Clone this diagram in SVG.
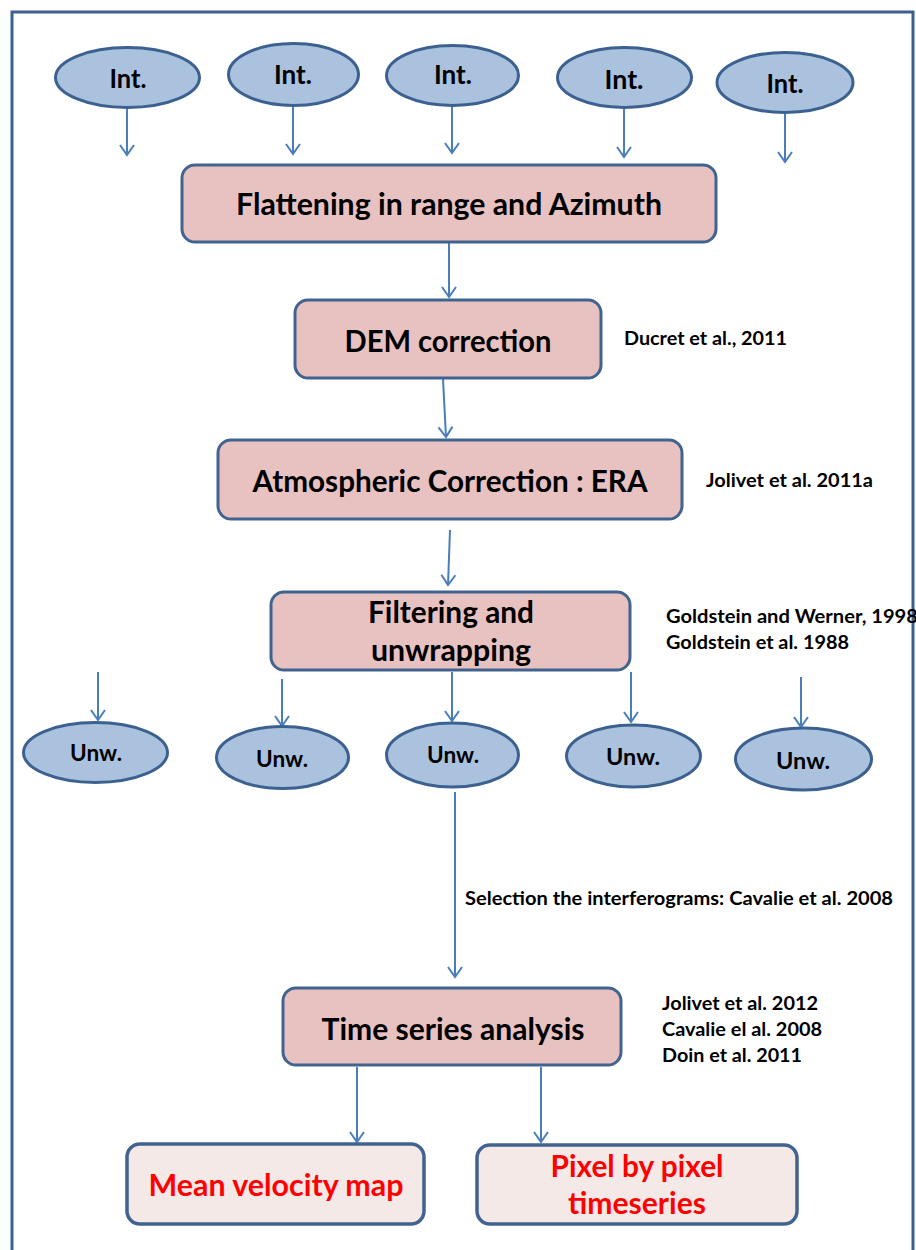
<svg xmlns="http://www.w3.org/2000/svg" width="916" height="1250" viewBox="0 0 916 1250">
<defs>
<style>
.ell{fill:#abc2df;stroke:#3c6190;stroke-width:3}
.box{fill:#e8c2c1;stroke:#40638f;stroke-width:3}
.out{fill:#f5e9e8;stroke:#40638f;stroke-width:3.5}
.t{font-family:Lato,"Liberation Sans",sans-serif;font-weight:bold;fill:#000}
.red{fill:#ff0000}
.c{stroke:#4a7ebb;stroke-width:2;fill:none}
</style>
<marker id="ah" markerUnits="userSpaceOnUse" markerWidth="20" markerHeight="20" viewBox="-12 -10 14 20" refX="0" refY="0" orient="auto">
<path d="M-10,-7 L0,0 L-10,7" fill="none" stroke="#4a7ebb" stroke-width="2"/>
</marker>
</defs>
<rect width="916" height="1250" fill="#fff"/>
<path d="M12,1250 V12 H913 V1250" fill="none" stroke="#3c6190" stroke-width="3"/>

<g id="connectors">
<line class="c" x1="127" y1="108" x2="127" y2="155" marker-end="url(#ah)"/>
<line class="c" x1="293" y1="106" x2="293" y2="154" marker-end="url(#ah)"/>
<line class="c" x1="452" y1="106" x2="452" y2="153" marker-end="url(#ah)"/>
<line class="c" x1="624" y1="108" x2="624" y2="157" marker-end="url(#ah)"/>
<line class="c" x1="785" y1="113" x2="785" y2="162" marker-end="url(#ah)"/>
<line class="c" x1="449" y1="243" x2="449" y2="297" marker-end="url(#ah)"/>
<line class="c" x1="443" y1="379" x2="446" y2="437" marker-end="url(#ah)"/>
<line class="c" x1="450" y1="530" x2="448" y2="585" marker-end="url(#ah)"/>
<line class="c" x1="98" y1="672" x2="98" y2="720" marker-end="url(#ah)"/>
<line class="c" x1="282" y1="679" x2="282" y2="726" marker-end="url(#ah)"/>
<line class="c" x1="452" y1="672" x2="452" y2="721" marker-end="url(#ah)"/>
<line class="c" x1="631" y1="672" x2="631" y2="722" marker-end="url(#ah)"/>
<line class="c" x1="801" y1="677" x2="801" y2="727" marker-end="url(#ah)"/>
<line class="c" x1="455" y1="792" x2="455" y2="977" marker-end="url(#ah)"/>
<line class="c" x1="357" y1="1067" x2="357" y2="1142" marker-end="url(#ah)"/>
<line class="c" x1="541" y1="1067" x2="541" y2="1142" marker-end="url(#ah)"/>
</g>

<g id="int1"><ellipse class="ell" cx="127.5" cy="77.5" rx="72" ry="30"/><text class="t" x="128" y="88" font-size="27" text-anchor="middle" textLength="37" lengthAdjust="spacingAndGlyphs">Int.</text></g>
<g id="int2"><ellipse class="ell" cx="293.5" cy="74.5" rx="65" ry="31"/><text class="t" x="293" y="84" font-size="27" text-anchor="middle" textLength="38" lengthAdjust="spacingAndGlyphs">Int.</text></g>
<g id="int3"><ellipse class="ell" cx="452.5" cy="75.5" rx="66" ry="30"/><text class="t" x="453" y="84" font-size="27" text-anchor="middle" textLength="38" lengthAdjust="spacingAndGlyphs">Int.</text></g>
<g id="int4"><ellipse class="ell" cx="624.5" cy="77.5" rx="67" ry="30"/><text class="t" x="624" y="89" font-size="27" text-anchor="middle" textLength="39" lengthAdjust="spacingAndGlyphs">Int.</text></g>
<g id="int5"><ellipse class="ell" cx="785" cy="82.5" rx="68" ry="30"/><text class="t" x="785" y="93" font-size="27" text-anchor="middle" textLength="37" lengthAdjust="spacingAndGlyphs">Int.</text></g>

<g id="flattening"><rect class="box" x="182" y="165" width="534" height="77" rx="13"/><text class="t" x="449" y="215" font-size="30" text-anchor="middle" textLength="426" lengthAdjust="spacingAndGlyphs">Flattening in range and Azimuth</text></g>
<g id="dem"><rect class="box" x="295" y="300" width="306" height="78" rx="13"/><text class="t" x="448" y="352" font-size="30" text-anchor="middle" textLength="207" lengthAdjust="spacingAndGlyphs">DEM correction</text></g>
<text class="t" x="624" y="345" font-size="18" textLength="163" lengthAdjust="spacingAndGlyphs">Ducret et al., 2011</text>
<g id="atmos"><rect class="box" x="218" y="440" width="464" height="79" rx="13"/><text class="t" x="450" y="492" font-size="30" text-anchor="middle" textLength="395" lengthAdjust="spacingAndGlyphs">Atmospheric Correction : ERA</text></g>
<text class="t" x="706" y="487" font-size="18" textLength="167" lengthAdjust="spacingAndGlyphs">Jolivet et al. 2011a</text>
<g id="filtering"><rect class="box" x="271" y="592" width="359" height="78" rx="13"/><text class="t" x="451" y="623" font-size="30" text-anchor="middle" textLength="166" lengthAdjust="spacingAndGlyphs">Filtering and</text><text class="t" x="451" y="661" font-size="30" text-anchor="middle" textLength="160" lengthAdjust="spacingAndGlyphs">unwrapping</text></g>
<text class="t" x="666" y="623" font-size="18" textLength="252" lengthAdjust="spacingAndGlyphs">Goldstein and Werner, 1998</text>
<text class="t" x="666" y="649" font-size="18" textLength="183" lengthAdjust="spacingAndGlyphs">Goldstein et al. 1988</text>

<g id="unw1"><ellipse class="ell" cx="95.5" cy="752.5" rx="72" ry="30"/><text class="t" x="96" y="761" font-size="22" text-anchor="middle" textLength="52" lengthAdjust="spacingAndGlyphs">Unw.</text></g>
<g id="unw2"><ellipse class="ell" cx="282.5" cy="757.5" rx="66" ry="31"/><text class="t" x="282" y="767" font-size="22" text-anchor="middle" textLength="52" lengthAdjust="spacingAndGlyphs">Unw.</text></g>
<g id="unw3"><ellipse class="ell" cx="452.5" cy="755" rx="66" ry="32"/><text class="t" x="453" y="763" font-size="22" text-anchor="middle" textLength="52" lengthAdjust="spacingAndGlyphs">Unw.</text></g>
<g id="unw4"><ellipse class="ell" cx="633.5" cy="756" rx="67" ry="31"/><text class="t" x="633" y="765" font-size="22" text-anchor="middle" textLength="54" lengthAdjust="spacingAndGlyphs">Unw.</text></g>
<g id="unw5"><ellipse class="ell" cx="803.5" cy="759" rx="68" ry="31"/><text class="t" x="803" y="769" font-size="22" text-anchor="middle" textLength="54" lengthAdjust="spacingAndGlyphs">Unw.</text></g>

<text class="t" x="465" y="905" font-size="18" textLength="428" lengthAdjust="spacingAndGlyphs">Selection the interferograms: Cavalie et al. 2008</text>

<g id="timeseries"><rect class="box" x="283" y="988" width="338" height="77" rx="13"/><text class="t" x="453" y="1040" font-size="30" text-anchor="middle" textLength="263" lengthAdjust="spacingAndGlyphs">Time series analysis</text></g>
<text class="t" x="662" y="1010" font-size="18" textLength="156" lengthAdjust="spacingAndGlyphs">Jolivet et al. 2012</text>
<text class="t" x="662" y="1036" font-size="18" textLength="160" lengthAdjust="spacingAndGlyphs">Cavalie el al. 2008</text>
<text class="t" x="662" y="1062" font-size="18" textLength="140" lengthAdjust="spacingAndGlyphs">Doin et al. 2011</text>

<g id="meanvel"><rect class="out" x="127" y="1144" width="297" height="80" rx="13"/><text class="t red" x="276" y="1196" font-size="30" text-anchor="middle" textLength="255" lengthAdjust="spacingAndGlyphs">Mean velocity map</text></g>
<g id="pixel"><rect class="out" x="477" y="1145" width="320" height="79" rx="13"/><text class="t red" x="637" y="1177" font-size="30" text-anchor="middle" textLength="173" lengthAdjust="spacingAndGlyphs">Pixel by pixel</text><text class="t red" x="637" y="1214" font-size="30" text-anchor="middle" textLength="138" lengthAdjust="spacingAndGlyphs">timeseries</text></g>
</svg>
